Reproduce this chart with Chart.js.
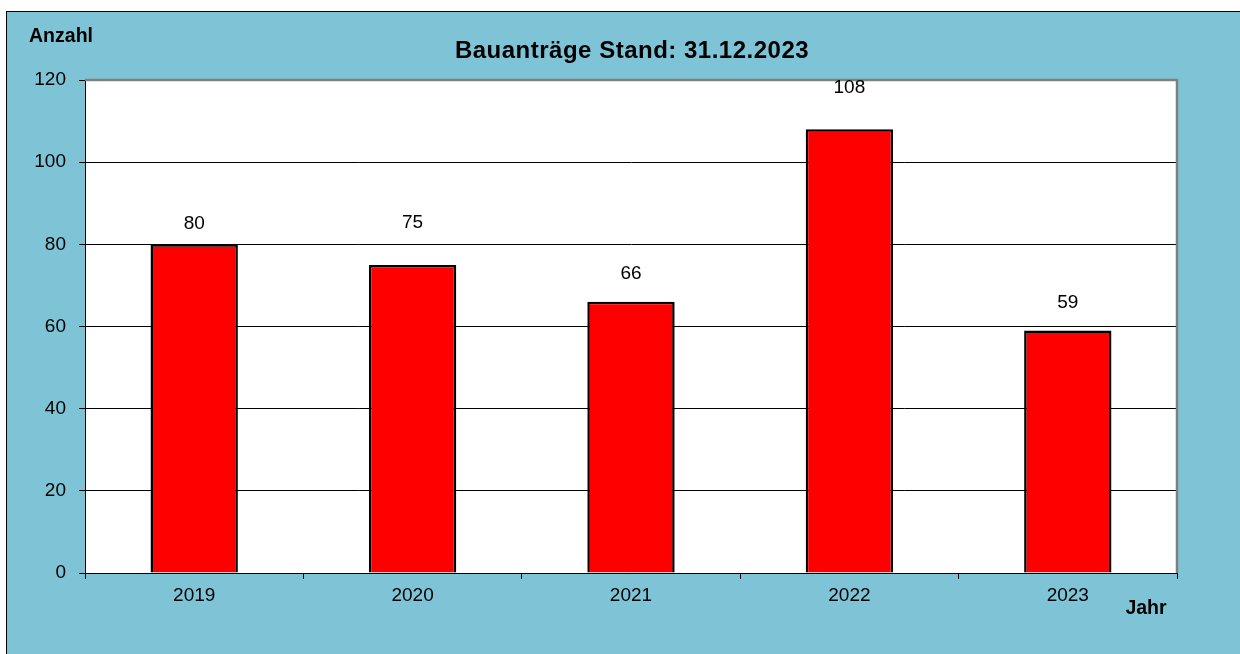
<!DOCTYPE html>
<html>
<head>
<meta charset="utf-8">
<script src="https://cdn.jsdelivr.net/npm/chart.js@4"></script>
<style>
  html, body { margin: 0; padding: 0; background: #fff; overflow: hidden; }
  #wrap { width: 1240px; height: 654px; }
</style>
</head>
<body>
<div id="wrap"><canvas id="c" width="1240" height="654"></canvas></div>
<script>
const years = ['2019', '2020', '2021', '2022', '2023'];
const antraege = [80, 75, 66, 108, 59];
const yTicks = [0, 20, 40, 60, 80, 100, 120];
// how far each value label sits above its bar (px), as placed in the original
const labelLift = [21, 42, 28, 42, 28];

const FONT = '"Liberation Sans", Arial, sans-serif';
const BG = '#7fc4d6';

// frame, plot border and free texts
const decor = {
  id: 'decor',
  beforeDraw(chart) {
    const { ctx, chartArea: a } = chart;
    ctx.save();
    ctx.fillStyle = BG;
    ctx.fillRect(6, 11, 1240, 654);
    ctx.strokeStyle = '#000';
    ctx.lineWidth = 1;
    ctx.strokeRect(6.5, 11.5, 1240, 654);
    ctx.fillStyle = '#fff';
    ctx.fillRect(a.left, a.top, a.right - a.left, a.bottom - a.top);
    ctx.restore();
  },
  afterDraw(chart) {
    const { ctx, chartArea: a } = chart;
    ctx.save();
    ctx.strokeStyle = '#808080';
    ctx.lineWidth = 2.5;
    ctx.beginPath();
    ctx.moveTo(a.left, a.top);
    ctx.lineTo(a.right, a.top);
    ctx.lineTo(a.right, a.bottom);
    ctx.stroke();

    ctx.fillStyle = '#000';
    ctx.textBaseline = 'middle';
    ctx.textAlign = 'center';
    ctx.font = 'bold 24px ' + FONT;
    ctx.letterSpacing = '0.5px';
    ctx.fillText('Bauanträge Stand: 31.12.2023', (a.left + a.right) / 2 + 1, 51);
    ctx.letterSpacing = '0px';
    ctx.font = 'bold 19.5px ' + FONT;
    ctx.fillText('Anzahl', 61, 37);
    ctx.fillText('Jahr', 1146, 609);

    // value labels above bars
    ctx.font = '19px ' + FONT;
    const meta = chart.getDatasetMeta(0);
    meta.data.forEach((bar, i) => {
      ctx.fillText(String(antraege[i]), bar.x, bar.y - labelLift[i]);
    });
    ctx.restore();
  },
};

new Chart(document.getElementById('c'), {
  type: 'bar',
  data: {
    labels: years,
    datasets: [{
      data: antraege,
      backgroundColor: '#ff0000',
      borderColor: '#000',
      borderWidth: 2.5,
      borderSkipped: 'bottom',
      categoryPercentage: 1,
      barPercentage: 0.4,
    }],
  },
  options: {
    responsive: false,
    animation: false,
    events: [],
    layout: { padding: { left: 0, top: 80, right: 63, bottom: 0 } },
    plugins: {
      legend: { display: false },
      title: { display: false },
      tooltip: { enabled: false },
    },
    scales: {
      x: {
        grid: {
          offset: true,
          drawOnChartArea: false,
          drawTicks: true,
          tickLength: 6,
          tickColor: '#000',
        },
        border: { color: '#000', width: 1 },
        ticks: { color: '#000', font: { family: FONT, size: 19 }, padding: 5 },
        afterFit: (s) => { s.height = 81; },
      },
      y: {
        min: 0,
        max: 120,
        afterBuildTicks: (s) => { s.ticks = yTicks.map((v) => ({ value: v })); },
        grid: {
          color: '#000',
          lineWidth: 1,
          tickLength: 6,
          tickColor: '#000',
        },
        border: { color: '#000', width: 1 },
        ticks: { color: '#000', font: { family: FONT, size: 19 }, padding: 13 },
        afterFit: (s) => { s.width = 85; },
      },
    },
  },
  plugins: [decor],
});
</script>
</body>
</html>
